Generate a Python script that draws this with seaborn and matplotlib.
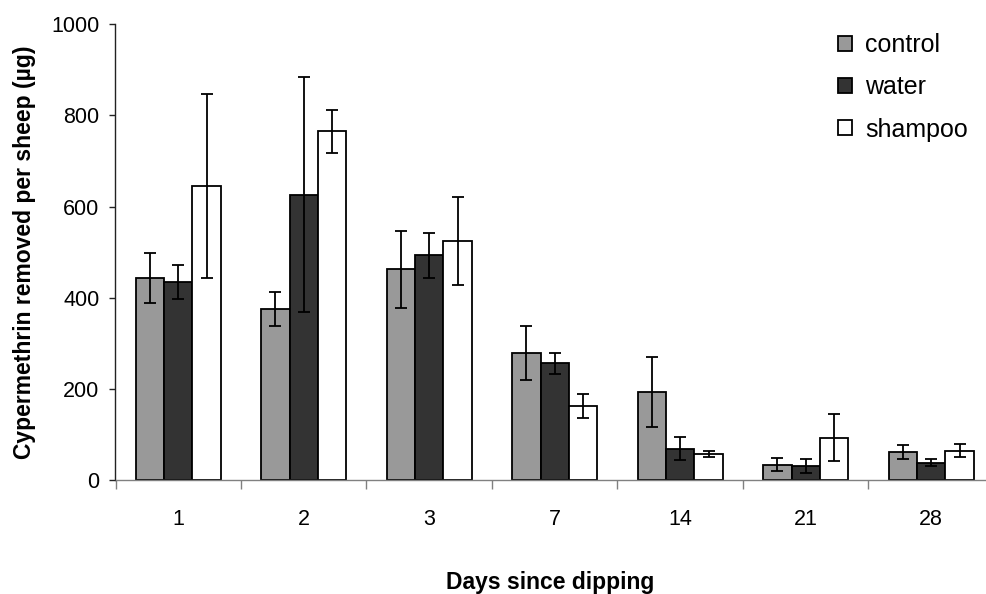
import matplotlib
matplotlib.use("Agg")
import matplotlib.pyplot as plt
from matplotlib.ticker import FixedLocator
import seaborn as sns
import pandas as pd
import numpy as np

# ---- data ----
days = ["1", "2", "3", "7", "14", "21", "28"]
series = ["control", "water", "shampoo"]
control = [443, 376, 462, 279, 194, 34, 61]
control_err = [55, 37, 85, 59, 77, 14, 16]
water = [435, 626, 493, 256, 69, 31, 38]
water_err = [37, 258, 50, 23, 25, 15, 8]
shampoo = [645, 765, 524, 162, 57, 93, 64]
shampoo_err = [201, 47, 96, 27, 6, 52, 14]
y_ticks = [0, 200, 400, 600, 800, 1000]

values = {"control": control, "water": water, "shampoo": shampoo}
errors = {"control": control_err, "water": water_err, "shampoo": shampoo_err}
colors = {"control": "#999999", "water": "#333333", "shampoo": "#ffffff"}

rows = []
for s in series:
    for d, v in zip(days, values[s]):
        rows.append({"day": d, "series": s, "value": v})
df = pd.DataFrame(rows)

sns.set_style("white")
plt.rcParams["font.family"] = ["Liberation Sans", "DejaVu Sans"]
plt.rcParams["text.color"] = "black"
plt.rcParams["axes.labelcolor"] = "black"
plt.rcParams["xtick.color"] = "black"
plt.rcParams["ytick.color"] = "black"

fig = plt.figure(figsize=(9.87, 5.94), dpi=100)
ax = fig.add_axes([115.5 / 987, 1 - 480 / 594, (994 - 115.5) / 987, (480 - 24.3) / 594])

sns.barplot(data=df, x="day", y="value", hue="series", order=days, hue_order=series,
            palette=colors, saturation=1, width=0.68, errorbar=None,
            edgecolor="black", linewidth=1.3, ax=ax, legend=False)

bar_containers = list(ax.containers)

# error bars positioned on the drawn bars
for s, cont in zip(series, bar_containers):
    xs = [p.get_x() + p.get_width() / 2 for p in cont.patches]
    hs = [p.get_height() for p in cont.patches]
    ax.errorbar(xs, hs, yerr=errors[s], fmt="none", ecolor="black",
                elinewidth=1.3, capsize=4.3, capthick=1.3, zorder=5)

ax.set_xlim(-0.5, len(days) - 0.5)
ax.set_ylim(0, 1000)
ax.yaxis.set_major_locator(FixedLocator(y_ticks))
ax.xaxis.set_minor_locator(FixedLocator(np.arange(-0.5, len(days), 1.0)))

for side in ["top", "right"]:
    ax.spines[side].set_visible(False)
ax.spines["left"].set_color("#222222")
ax.spines["left"].set_linewidth(1.0)
ax.spines["bottom"].set_color("#808080")
ax.spines["bottom"].set_linewidth(1.0)

ax.tick_params(axis="y", which="major", direction="out", length=4.5, width=1.0,
               color="#222222", labelcolor="black", labelsize=15.5, pad=7, left=True)
ax.tick_params(axis="x", which="major", length=0, labelsize=15.5, labelcolor="black", pad=21)
ax.tick_params(axis="x", which="minor", direction="out", length=6.5, width=1.0,
               color="#808080", bottom=True)

ax.set_xlabel("Days since dipping", fontsize=16.5, fontweight="bold", color="black")
ax.set_ylabel("Cypermethrin removed per sheep (\u00b5g)", fontsize=16.5, fontweight="bold",
              color="black")
ax.xaxis.set_label_coords(0.495, -0.2)
ax.yaxis.set_label_coords(-0.09, 0.5)

handles = [c.patches[0] for c in bar_containers]
leg = fig.legend(handles, series, loc="upper left", bbox_to_anchor=(838 / 987, 1 - 33 / 594),
                 frameon=False, fontsize=18, handlelength=0.55, handleheight=0.55,
                 handletextpad=0.55, labelspacing=0.73, borderpad=0, borderaxespad=0)

fig.savefig("out.png", dpi=100)
